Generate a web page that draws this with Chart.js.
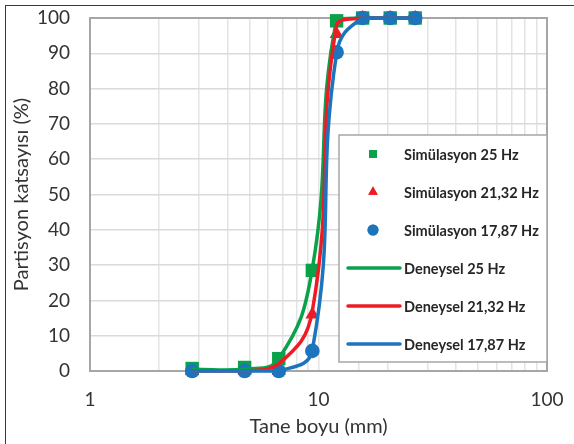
<!DOCTYPE html>
<html>
<head>
<meta charset="utf-8">
<script src="https://cdn.jsdelivr.net/npm/chart.js@4"></script>
<style>
  body { margin: 0; background: #fff; }
  #wrap { position: relative; width: 574px; height: 444px; }
</style>
</head>
<body>
<div id="wrap"><canvas id="granChart" width="574" height="444"></canvas></div>
<script>
// sieve sizes (mm)
var sizes = [2.8, 4.75, 6.7, 9.4, 12, 15.6, 20.6, 26.5];

// simulation results (%)
var sim25 = [0.7, 1.0, 3.5, 28.5, 99.2, 100, 100, 100];
var sim2132 = [0, 0, 0, 16, 95.5, 100, 100, 100];
var sim1787 = [0, 0, 0, 5.7, 90.3, 100, 100, 100];

// experimental curves (%)
var exp25 = [0.5, 0.5, 3.5, 29, 99.5, 100, 100, 100];
var exp2132 = [0, 0, 2, 17, 98, 100, 100, 100];
var exp1787 = [0, 0, 0, 6, 90, 100, 100, 100];

var seriesNames = ["Simülasyon 25 Hz", "Simülasyon 21,32 Hz", "Simülasyon 17,87 Hz",
                   "Deneysel 25 Hz", "Deneysel 21,32 Hz", "Deneysel 17,87 Hz"];
var xTickLabels = [1, 10, 100];

var green = "#0aa14b", red = "#ed1c24", blue = "#1c75bc";

function pts(vals) {
  return sizes.map(function (s, i) { return { x: s, y: vals[i] }; });
}

function simSet(i, vals, color, style, r) {
  return {
    label: seriesNames[i], data: pts(vals), showLine: false,
    pointStyle: style, pointRadius: r, pointHoverRadius: r,
    backgroundColor: color, borderColor: color, borderWidth: 0,
    clip: false, order: 5 - i
  };
}
function expSet(i, vals, color) {
  return {
    label: seriesNames[i], data: pts(vals), showLine: true,
    pointRadius: 0, borderColor: color, backgroundColor: color,
    borderWidth: 3.5, tension: 0.45, clip: false, order: 5 - i
  };
}

// outer frame + plot border
var framePlugin = {
  id: "frame",
  beforeDraw: function (chart) {
    var c = chart.ctx;
    c.save();
    c.fillStyle = "#fff";
    c.fillRect(0, 0, chart.width, chart.height);
    c.strokeStyle = "#3a3a3a";
    c.lineWidth = 1;
    c.strokeRect(5.5, 5.5, 1000, 1000);
    c.restore();
  },
  beforeDatasetsDraw: function (chart) {
    var a = chart.chartArea, c = chart.ctx;
    c.save();
    c.strokeStyle = "#a6a6a6";
    c.lineWidth = 2;
    c.strokeRect(a.left, a.top, a.right - a.left, a.bottom - a.top);
    c.restore();
  }
};

// legend box inside the plot
var legendPlugin = {
  id: "boxLegend",
  afterDraw: function (chart) {
    var a = chart.chartArea, c = chart.ctx;
    var bx = a.right - 208, by = a.top + 117, bw = 208, bh = 227;
    c.save();
    c.fillStyle = "#fff";
    c.fillRect(bx, by, bw, bh);
    c.strokeStyle = "#a6a6a6";
    c.lineWidth = 1.5;
    c.strokeRect(bx, by, bw, bh);
    c.font = "bold 14.5px Lato";
    c.textBaseline = "middle";
    chart.data.datasets.forEach(function (ds, i) {
      var y = by + 19 + i * 38;
      if (ds.showLine) {
        c.strokeStyle = ds.borderColor;
        c.lineWidth = 3.5;
        c.lineCap = "round";
        c.beginPath();
        c.moveTo(bx + 9, y);
        c.lineTo(bx + 61, y);
        c.stroke();
      } else {
        c.fillStyle = ds.backgroundColor;
        Chart.helpers.drawPoint(c, { pointStyle: ds.pointStyle, radius: 5.5, rotation: 0, borderWidth: 0 }, bx + 34, y);
        c.fill();
      }
      c.fillStyle = "#262626";
      c.fillText(ds.label, bx + 65, y + 1);
    });
    c.restore();
  }
};

new Chart(document.getElementById("granChart"), {
  type: "scatter",
  data: {
    datasets: [
      simSet(0, sim25, green, "rect", 9.5),
      simSet(1, sim2132, red, "triangle", 8),
      simSet(2, sim1787, blue, "circle", 7.3),
      expSet(3, exp25, green),
      expSet(4, exp2132, red),
      expSet(5, exp1787, blue)
    ]
  },
  options: {
    responsive: false,
    animation: false,
    layout: { autoPadding: false, padding: { left: 0, top: 18, right: 27, bottom: 0 } },
    plugins: { legend: { display: false }, tooltip: { enabled: false } },
    scales: {
      x: {
        type: "logarithmic", min: 1, max: 100,
        grid: { color: "#e4e4e4", lineWidth: 1.5, drawTicks: true, tickLength: 17, tickColor: "rgba(0,0,0,0)" },
        border: { display: false },
        ticks: {
          autoSkip: false, maxRotation: 0, padding: 0, color: "#333",
          font: { family: "Lato", size: 19 },
          callback: function (v) { return xTickLabels.indexOf(v) >= 0 ? String(v) : ""; }
        },
        title: { display: true, text: "Tane boyu (mm)", color: "#333",
                 font: { family: "Lato", size: 20 }, padding: { top: 0, bottom: 5 } },
        afterFit: function (s) { s.height = 73; }
      },
      y: {
        min: 0, max: 100,
        grid: { color: "#dadada", lineWidth: 1.5, drawTicks: true, tickLength: 20, tickColor: "rgba(0,0,0,0)" },
        border: { display: false },
        ticks: { stepSize: 10, padding: 0, color: "#333", font: { family: "Lato", size: 19 } },
        title: { display: true, text: "Partisyon katsayısı (%)", color: "#333",
                 font: { family: "Lato", size: 20 }, padding: { top: 10, bottom: 0 } },
        afterFit: function (s) { s.width = 90; }
      }
    }
  },
  plugins: [framePlugin, legendPlugin]
});
</script>
</body>
</html>
